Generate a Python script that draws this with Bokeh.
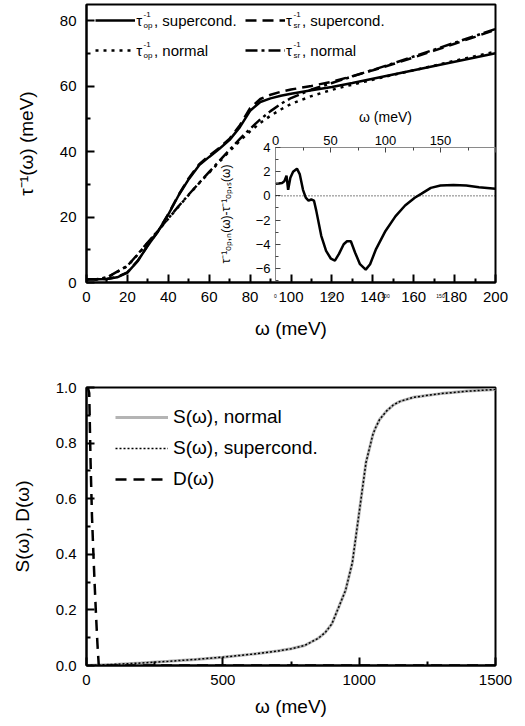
from bokeh.plotting import figure
from bokeh.models import (FixedTicker, Legend, LegendItem, LinearAxis, Range1d,
                          Label, GridBox, Span)
from bokeh.embed import file_html
from bokeh.resources import INLINE

FONT = "Liberation Sans"

# ---------------- data ----------------
omega = [0, 5, 10, 15, 20, 25, 30, 35, 40, 45, 50, 55, 60, 65, 70, 75, 80, 85, 90,
         95, 100, 110, 120, 130, 140, 150, 160, 170, 180, 190, 200]
tau_op_sc = [1.0, 1.0, 1.1, 1.6, 3.0, 6.5, 11.3, 15.6, 20.8, 26.6, 31.6, 35.8, 38.4,
             40.9, 43.6, 47.5, 52.5, 55.2, 56.3, 57.1, 57.7, 58.8, 59.8, 61.0, 62.3,
             63.6, 64.9, 66.2, 67.5, 68.8, 70.1]
tau_sr_sc = [1.0, 1.0, 1.1, 1.7, 3.1, 6.6, 11.4, 15.7, 20.9, 26.8, 31.9, 36.1, 38.8,
             41.2, 44.0, 48.1, 53.3, 56.1, 57.4, 58.3, 59.0, 60.1, 61.4, 63.1, 64.9,
             66.8, 68.8, 70.9, 73.0, 75.1, 77.3]
tau_op_n = [1.0, 1.0, 1.5, 3.2, 5.0, 8.5, 12.2, 15.8, 19.5, 23.2, 26.8, 30.3, 33.6,
            36.9, 40.2, 43.3, 46.2, 48.8, 51.0, 52.9, 54.6, 57.0, 58.9, 60.5, 62.0,
            63.5, 64.9, 66.3, 67.8, 69.2, 70.6]
tau_sr_n = [1.0, 1.0, 1.5, 3.3, 5.1, 8.6, 12.3, 15.9, 19.6, 23.3, 26.9, 30.4, 33.8,
            37.2, 40.6, 43.9, 47.0, 49.9, 52.4, 54.6, 56.4, 59.0, 61.0, 63.0, 65.0,
            67.0, 69.1, 71.2, 73.3, 75.4, 77.5]

inset_omega = [0, 3, 6, 8, 10, 11.5, 13.5, 16, 19.5, 22, 25, 27.5, 30, 32.5, 35, 37,
               41.6, 46, 50.4, 54, 57.7, 62, 65, 68.5, 72.4, 76.8, 82, 86, 91.4, 100,
               109, 117.8, 126.6, 132.4, 141.2, 150, 161.7, 173.4, 185, 200]
inset_diff = [1.0, 1.02, 1.07, 1.2, 1.67, 0.5, 1.5, 2.0, 2.25, 1.8, 0.5, -0.15, -0.4,
              -0.3, -0.4, -1.2, -3.3, -4.55, -5.2, -5.35, -4.8, -4.0, -3.75, -3.75,
              -4.7, -5.65, -6.1, -5.65, -4.4, -2.9, -1.7, -0.8, -0.16, 0.16, 0.66,
              0.85, 0.9, 0.86, 0.72, 0.58]

s_omega = [0, 100, 200, 300, 400, 500, 600, 700, 750, 800, 850, 875, 900, 925, 950,
           975, 1000, 1025, 1050, 1060, 1075, 1100, 1125, 1150, 1200, 1300, 1400, 1500]
s_normal = [0.0, 0.004, 0.009, 0.015, 0.022, 0.030, 0.040, 0.052, 0.060, 0.072,
            0.098, 0.118, 0.150, 0.21, 0.27, 0.37, 0.55, 0.73, 0.83, 0.855, 0.885,
            0.915, 0.937, 0.950, 0.965, 0.978, 0.987, 0.993]
s_supercond = [0.0, 0.004, 0.009, 0.015, 0.022, 0.030, 0.040, 0.052, 0.060, 0.072,
               0.098, 0.118, 0.150, 0.21, 0.27, 0.37, 0.55, 0.73, 0.83, 0.855, 0.885,
               0.915, 0.937, 0.950, 0.965, 0.978, 0.987, 0.993]
d_omega = [0, 5, 10, 15, 20, 25, 30, 35, 40, 45, 60, 1500]
d_vals = [1.0, 1.0, 0.98, 0.73, 0.54, 0.41, 0.29, 0.18, 0.08, 0.0, 0.0, 0.0]

top_xticks = [0, 20, 40, 60, 80, 100, 120, 140, 160, 180, 200]
top_xminor = [10, 30, 50, 70, 90, 110, 130, 150, 170, 190]
top_yticks = [0, 20, 40, 60, 80]
top_yminor = [10, 30, 50, 70]
inset_xticks = [0, 50, 100, 150, 200]
inset_xminor = [25, 75, 125, 175]
inset_yticks = [-6, -4, -2, 0, 2, 4]
inset_yminor = [-7, -5, -3, -1, 1, 3]
bot_xticks = [0, 500, 1000, 1500]
bot_xminor = [250, 750, 1250]
bot_yticks = [0.0, 0.2, 0.4, 0.6, 0.8, 1.0]
bot_yminor = [0.1, 0.3, 0.5, 0.7, 0.9]
bot_ylabels = {0.0: "0.0", 0.2: "0.2", 0.4: "0.4", 0.6: "0.6", 0.8: "0.8", 1.0: "1.0"}

# ---------------- layout constants ----------------
OFF = 8               # page offset handled inside the grid
FRAME_L, FRAME_R, FRAME_B = 83, 495, 282
FRAME_H = 278
Y_TOP = 85.0          # top of main y range


def tx(px):
    return (px - FRAME_L) * 200.0 / (FRAME_R - FRAME_L)


def ty(py):
    return (FRAME_B - py) * Y_TOP / FRAME_H


def style_axis(ax, label_size="19px", tick_size="15px"):
    ax.axis_line_width = 2
    ax.axis_line_color = "black"
    ax.major_tick_in = 8
    ax.major_tick_out = 0
    ax.minor_tick_in = 4
    ax.minor_tick_out = 0
    ax.major_tick_line_width = 2
    ax.minor_tick_line_width = 2
    ax.major_tick_line_color = "black"
    ax.minor_tick_line_color = "black"
    ax.major_label_text_font = FONT
    ax.major_label_text_font_size = tick_size
    ax.major_label_text_color = "black"
    ax.axis_label_text_font = FONT
    ax.axis_label_text_font_style = "normal"
    ax.axis_label_text_font_size = label_size
    ax.axis_label_text_color = "black"


# ---------------- top panel ----------------
p1 = figure(width=509, height=368, x_range=Range1d(0, 200), y_range=Range1d(0, Y_TOP),
            output_backend="svg", toolbar_location=None, title=None,
            min_border_left=75, min_border_right=22, min_border_top=4,
            min_border_bottom=86)
p1.xgrid.visible = False
p1.ygrid.visible = False
p1.outline_line_color = "black"
p1.outline_line_width = 2
p1.outline_line_alpha = 1
p1.background_fill_color = "white"

r_srn = p1.line(omega, tau_sr_n, line_color="black", line_width=2.5, line_dash="12 4 3 4")
r_opn = p1.line(omega, tau_op_n, line_color="black", line_width=2.5, line_dash="3 5")
r_srs = p1.line(omega, tau_sr_sc, line_color="black", line_width=2.5, line_dash="11 6")
r_ops = p1.line(omega, tau_op_sc, line_color="black", line_width=2.5)

xa = p1.xaxis[0]
style_axis(xa)
xa.ticker = FixedTicker(ticks=top_xticks, minor_ticks=top_xminor)
xa.axis_label = "ω (meV)"
xa.major_label_standoff = 9
xa.axis_label_standoff = 13
ya = p1.yaxis[0]
style_axis(ya)
ya.ticker = FixedTicker(ticks=top_yticks, minor_ticks=top_yminor)
ya.axis_label = "τ⁻¹(ω) (meV)"
ya.major_label_standoff = 10
ya.axis_label_standoff = 20


def make_legend(items, loc, standoff, glyph_w=40, gh=20, spacing=10, size="15px"):
    lg = Legend(items=items, location=loc, orientation="vertical",
                glyph_width=glyph_w, glyph_height=gh, label_height=gh,
                label_standoff=standoff, spacing=spacing, padding=0, margin=0,
                border_line_color=None, background_fill_alpha=0,
                label_text_font=FONT, label_text_font_size=size,
                label_text_color="black")
    return lg


leg1 = make_legend([LegendItem(label=", supercond.", renderers=[r_ops]),
                    LegendItem(label=", normal", renderers=[r_opn])], (9, 222), 19)
leg2 = make_legend([LegendItem(label=", supercond.", renderers=[r_srs]),
                    LegendItem(label=", normal", renderers=[r_srn])], (159, 222), 17)
p1.add_layout(leg1)
p1.add_layout(leg2)


def tau_symbol(p, px, py, sub):
    p.add_layout(Label(x=tx(px), y=ty(py), text="τ", text_font=FONT,
                       text_font_size="15px", text_baseline="middle",
                       text_align="left", text_color="black"))
    p.add_layout(Label(x=tx(px + 7.5), y=ty(py - 6), text="-1", text_font=FONT,
                       text_font_size="8px", text_baseline="middle",
                       text_align="left", text_color="black"))
    p.add_layout(Label(x=tx(px + 7.5), y=ty(py + 5), text=sub, text_font=FONT,
                       text_font_size="8px", text_baseline="middle",
                       text_align="left", text_color="black"))


tau_symbol(p1, 133, 20, "op")
tau_symbol(p1, 133, 50, "op")
tau_symbol(p1, 284, 20, "sr")
tau_symbol(p1, 284, 50, "sr")

# ---------------- inset ----------------
pi = figure(width=282, height=200, x_range=Range1d(0, 200), y_range=Range1d(-7, 4),
            output_backend="svg", toolbar_location=None, title=None,
            x_axis_location="above",
            min_border_left=54, min_border_right=2, min_border_top=47,
            min_border_bottom=18)
pi.xgrid.visible = False
pi.ygrid.visible = False
pi.outline_line_color = None
pi.background_fill_color = None
pi.border_fill_color = None
pi.add_layout(Span(location=0, dimension="width", line_color="black", line_width=1,
                   line_dash="1 2"))
pi.line(inset_omega, inset_diff, line_color="black", line_width=2.5)

for ax, ticks, minors in ((pi.xaxis[0], inset_xticks, inset_xminor),
                          (pi.yaxis[0], inset_yticks, inset_yminor)):
    ax.ticker = FixedTicker(ticks=ticks, minor_ticks=minors)
    ax.axis_line_color = "#8a8a8a"
    ax.axis_line_width = 1
    ax.major_tick_in = 5
    ax.major_tick_out = 0
    ax.minor_tick_in = 3
    ax.minor_tick_out = 0
    ax.major_tick_line_color = "#444444"
    ax.minor_tick_line_color = "#444444"
    ax.major_tick_line_width = 1
    ax.minor_tick_line_width = 1
    ax.major_label_text_font = FONT
    ax.major_label_text_font_size = "13px"
    ax.major_label_text_color = "black"
    ax.axis_label_text_font = FONT
    ax.axis_label_text_font_style = "normal"
    ax.axis_label_text_color = "black"

ix = pi.xaxis[0]
ix.axis_label = "ω (meV)"
ix.axis_label_text_font_size = "14px"
ix.major_label_standoff = 3
ix.axis_label_standoff = 8
ix.major_label_overrides = {200: ""}
iy = pi.yaxis[0]
iy.axis_label = "τ⁻¹ₒₚ,ₙ(ω)-τ⁻¹ₒₚ,ₛ(ω)"
iy.axis_label_text_font_size = "12px"
iy.major_label_standoff = 5
iy.axis_label_standoff = 20

ib = LinearAxis(ticker=FixedTicker(ticks=inset_xticks, minor_ticks=[]),
                axis_line_color=None, major_tick_line_color=None,
                minor_tick_line_color=None, major_label_text_font=FONT,
                major_label_text_font_size="5px", major_label_standoff=7,
                major_label_text_color="black",
                major_label_overrides={200: ""})
pi.add_layout(ib, "below")

# ---------------- bottom panel ----------------
p2 = figure(width=509, height=355, x_range=Range1d(0, 1500), y_range=Range1d(0, 1.0),
            output_backend="svg", toolbar_location=None, title=None,
            min_border_left=75, min_border_right=22, min_border_top=19,
            min_border_bottom=58)
p2.xgrid.visible = False
p2.ygrid.visible = False
p2.outline_line_color = "black"
p2.outline_line_width = 2
p2.outline_line_alpha = 1

r_sn = p2.line(s_omega, s_normal, line_color="#b4b4b4", line_width=3)
r_ss = p2.line(s_omega, s_supercond, line_color="black", line_width=1.5, line_dash="2 2")
r_d = p2.line(d_omega, d_vals, line_color="black", line_width=2.5, line_dash="11 7")

bx = p2.xaxis[0]
style_axis(bx)
bx.ticker = FixedTicker(ticks=bot_xticks, minor_ticks=bot_xminor)
bx.axis_label = "ω (meV)"
bx.major_label_standoff = 9
bx.axis_label_standoff = 8
by = p2.yaxis[0]
style_axis(by)
by.ticker = FixedTicker(ticks=bot_yticks, minor_ticks=bot_yminor)
by.major_label_overrides = bot_ylabels
by.axis_label = "S(ω), D(ω)"
by.major_label_standoff = 10
by.axis_label_standoff = 20

leg3 = make_legend([LegendItem(label="S(ω), normal", renderers=[r_sn]),
                    LegendItem(label="S(ω), supercond.", renderers=[r_ss]),
                    LegendItem(label="D(ω)", renderers=[r_d])],
                   (29, 175), 5, glyph_w=53, gh=20, spacing=9, size="19px")
p2.add_layout(leg3)

# ---------------- page ----------------
grid = GridBox(children=[(p1, 0, 1, 4, 3), (pi, 2, 2, 1, 1), (p2, 4, 1, 1, 3)],
               rows=[f"{OFF}px", "92px", "200px", "68px", "355px"],
               cols=[f"{OFF}px", "207px", "282px", "20px"], spacing=0)

open("out.html", "w").write(file_html(grid, INLINE))
